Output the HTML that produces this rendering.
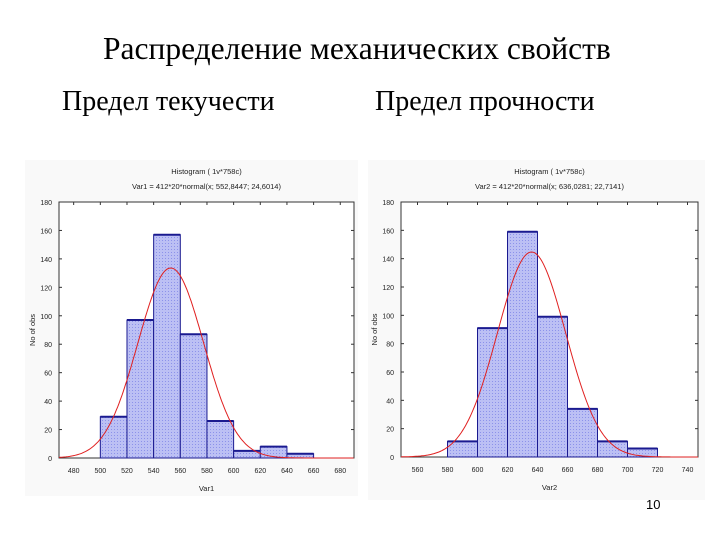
<!DOCTYPE html>
<html><head><meta charset="utf-8"><style>
body{margin:0;width:720px;height:540px;background:#fff;overflow:hidden;position:relative;font-family:"Liberation Serif",serif}
.t{position:absolute;white-space:nowrap;color:#000}
</style></head><body>
<div class="t" style="left:103px;top:31px;font-size:31.5px;">Распределение механических свойств</div>
<div class="t" style="left:62px;top:86px;font-size:28px;">Предел текучести</div>
<div class="t" style="left:375px;top:86px;font-size:28px;">Предел прочности</div>
<div class="t" style="left:646px;top:497px;font-size:13px;font-family:'Liberation Sans',sans-serif">10</div>
<svg id="svg" width="720" height="540" style="position:absolute;left:0;top:0" font-family="Liberation Sans, sans-serif">
<defs><pattern id="dots" width="3" height="3" patternUnits="userSpaceOnUse"><rect width="3" height="3" fill="#bcc0f4"/><rect width="1" height="1" fill="#8c92ea"/></pattern></defs>
</svg>
<script>
const ns="http://www.w3.org/2000/svg";
const svg=document.getElementById('svg');
// Chart 1 data
const edges1=[500,520,540,560,580,600,620,640,660];
const counts1=[29,97,157,87,26,5,8,3];
const xticks1=[480,500,520,540,560,580,600,620,640,660,680];
const mean1=552.8447, sd1=24.6014;
// Chart 2 data
const edges2=[580,600,620,640,660,680,700,720];
const counts2=[11,91,159,99,34,11,6];
const xticks2=[560,580,600,620,640,660,680,700,720,740];
const mean2=636.0281, sd2=22.7141;
const yticks=[0,20,40,60,80,100,120,140,160,180];
const N=412, W=20;

function el(t,a,txt){const e=document.createElementNS(ns,t);for(const k in a)e.setAttribute(k,a[k]);if(txt!==undefined)e.textContent=txt;svg.appendChild(e);return e;}

function chart(o){
  const X=v=>o.x0+(v-o.v0)*o.sx, Y=c=>o.bottom-c*(o.bottom-o.top)/180;
  const p=el('rect',{x:o.px,y:o.py,width:o.pw,height:o.ph,fill:'#f9f9f9'});
  
  
  const f=el('rect',{x:o.left,y:o.top,width:o.right-o.left,height:o.bottom-o.top,fill:'#fff',stroke:'#333','stroke-width':1});
  
  
  const t1=el('text',{x:(o.left+o.right)/2,y:o.top-28,'font-size':7.5,'text-anchor':'middle',fill:'#222'},o.title);
  
  
  const t2=el('text',{x:(o.left+o.right)/2,y:o.top-13,'font-size':7.5,'text-anchor':'middle',fill:'#222'},o.sub);
  
  
  yticks.forEach(v=>{
    const t=el('text',{x:o.left-7,y:Y(v)+3,'font-size':7,'text-anchor':'end',fill:'#222'},v);
    
    
    el('line',{x1:o.left,x2:o.left+3,y1:Y(v),y2:Y(v),stroke:'#333'});
    el('line',{x1:o.right,x2:o.right-3,y1:Y(v),y2:Y(v),stroke:'#333'});
  });
  o.xticks.forEach(v=>{
    const t=el('text',{x:X(v),y:o.bottom+15,'font-size':7,'text-anchor':'middle',fill:'#222'},v);
    
    
    el('line',{x1:X(v),x2:X(v),y1:o.top,y2:o.top+3,stroke:'#333'});
  });
  const xl=el('text',{x:(o.left+o.right)/2,y:o.bottom+33,'font-size':7.5,'text-anchor':'middle',fill:'#222'},o.xlabel);
  
  
  const yl=el('text',{x:0,y:0,'font-size':7.5,'text-anchor':'middle',fill:'#222',transform:`translate(${o.left-24},${(o.top+o.bottom)/2}) rotate(-90)`},'No of obs');
  
  
  o.counts.forEach((c,i)=>{
    const x1=X(o.edges[i]),x2=X(o.edges[i+1]);
    const b=el('rect',{x:x1,y:Y(c),width:x2-x1,height:Y(0)-Y(c),fill:'url(#dots)',stroke:'#1a1a90','stroke-width':1});
    
    
    el('line',{x1:x1,x2:x2,y1:Y(c),y2:Y(c),stroke:'#1a1a90','stroke-width':2});
  });
  let d='';
  for(let v=o.v0;v<=o.vEnd;v+=1){
    const c=N*W*Math.exp(-0.5*((v-o.mean)/o.sd)**2)/(o.sd*Math.sqrt(2*Math.PI));
    d+=(d?'L':'M')+X(v).toFixed(1)+','+Y(c).toFixed(1);
  }
  const cu=el('path',{d:d,fill:'none',stroke:'#e02020','stroke-width':1});
  
  
}
chart({id:'yield-chart',px:25,py:160,pw:333,ph:336,left:59,right:354,top:202,bottom:458,v0:469,vEnd:690,x0:59,sx:1.333,
  edges:edges1,counts:counts1,xticks:xticks1,mean:mean1,sd:sd1,
  title:'Histogram ( 1v*758c)',sub:'Var1 = 412*20*normal(x; 552,8447; 24,6014)',xlabel:'Var1'});
chart({id:'strength-chart',px:368,py:160,pw:337,ph:340,left:401,right:698,top:202,bottom:457,v0:549,vEnd:747,x0:401,sx:1.5,
  edges:edges2,counts:counts2,xticks:xticks2,mean:mean2,sd:sd2,
  title:'Histogram ( 1v*758c)',sub:'Var2 = 412*20*normal(x; 636,0281; 22,7141)',xlabel:'Var2'});
</script>
</body></html>
